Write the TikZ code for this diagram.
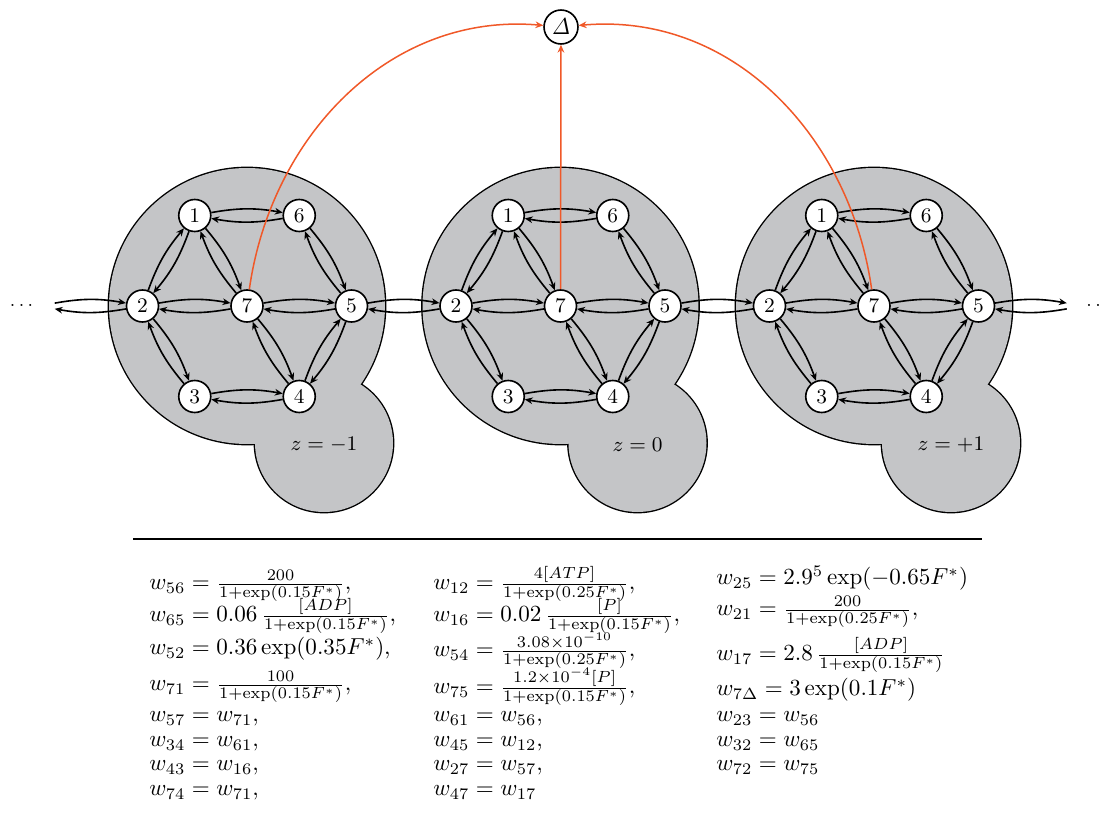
\documentclass[tikz,border=0pt]{standalone}
\usetikzlibrary{arrows.meta}
\definecolor{cellfill}{RGB}{196,197,199}
\definecolor{linkred}{RGB}{240,88,40}
\begin{document}
\begin{tikzpicture}[x=0.433pt,y=-0.433pt,
  state/.style={circle,draw,line width=0.7pt,fill=white,minimum size=13.86pt,inner sep=0pt,font=\small},
  ghost/.style={circle,minimum size=13.86pt,inner sep=0pt},
  flux/.style={-{Stealth[length=3.4pt,width=2.9pt]},line width=0.7pt,bend left=10},
  toatp/.style={-{Stealth[length=3.4pt,width=2.9pt]},line width=0.65pt,draw=linkred},
  eqn/.style={anchor=base west,inner sep=0pt},
  zlab/.style={font=\small},
  ellip/.style={anchor=base,inner sep=0pt,font=\footnotesize},
]
\useasboundingbox (0,0) rectangle (1105,828);

% shaded region of each unit cell: big disc around node 7 plus a small lobe
\foreach \cx in {247,560.5,874}{
  \draw[line width=1.2pt] (\cx,306) circle[radius=59.75pt];
  \draw[line width=1.2pt] (\cx+77,443) circle[radius=29.88pt];
}
\foreach \cx in {247,560.5,874}{
  \fill[cellfill] (\cx,306) circle[radius=59.75pt];
  \fill[cellfill] (\cx+77,443) circle[radius=29.88pt];
}

% states of each cell
\foreach \k/\cx/\zl in {a/247/{-1},b/560.5/0,c/874/{+1}}{
  \node[state] (\k7) at (\cx,306) {7};
  \node[state] (\k2) at (\cx-104.5,306) {2};
  \node[state] (\k5) at (\cx+104.5,306) {5};
  \node[state] (\k1) at (\cx-52.25,215.5) {1};
  \node[state] (\k6) at (\cx+52.25,215.5) {6};
  \node[state] (\k3) at (\cx-52.25,396.5) {3};
  \node[state] (\k4) at (\cx+52.25,396.5) {4};
  \node[zlab] (z\k) at (\cx+77,445) {$z=\zl$};
}

% open ends of the chain
\node[ghost] (L) at (38.5,306) {};
\node[ghost] (R) at (1083,306) {};
\node[ellip] (dl) at (21.5,307) {.\kern1.5pt.\kern1.5pt.};
\node[ellip] (dr) at (1098,307) {.\kern1.5pt.\kern1.5pt.};

% transitions inside each cell
\foreach \k in {a,b,c}{
  \foreach \u/\v in {1/6,2/1,1/7,2/7,7/5,6/5,2/3,7/4,3/4,4/5}{
    \draw[flux] (\k\u) to (\k\v);
    \draw[flux] (\k\v) to (\k\u);
  }
}
% transitions between neighbouring cells
\foreach \u/\v in {L/a2,a5/b2,b5/c2,c5/R}{
  \draw[flux] (\u) to (\v);
  \draw[flux] (\v) to (\u);
}

% ATP hydrolysis sink
\node[state,minimum size=14.7pt,font=\normalsize] (D) at (561,27) {$\mathit{\Delta}$};
\draw[toatp] (b7) -- (D);
\draw[toatp] (a7) to[out=82,in=175] (D);
\draw[toatp] (c7) to[out=98,in=5] (D);

% separator
\draw[line width=0.9pt] (133,539) coordinate (s1) -- (982,539) coordinate (s2);

% rates
\node[eqn] (e1) at (149,590) {$w_{56}=\frac{200}{1+\exp(0.15F^*)},$};
\node[eqn] (e2) at (149,622) {$w_{65}=0.06\,\frac{[ADP]}{1+\exp(0.15F^*)},$};
\node[eqn] (e3) at (149,655) {$w_{52}=0.36\exp(0.35F^*),$};
\node[eqn] (e4) at (149,691) {$w_{71}=\frac{100}{1+\exp(0.15F^*)},$};
\node[eqn] (e5) at (149,722) {$w_{57}=w_{71},$};
\node[eqn] (e6) at (149,747) {$w_{34}=w_{61},$};
\node[eqn] (e7) at (149,771) {$w_{43}=w_{16},$};
\node[eqn] (e8) at (149,796) {$w_{74}=w_{71},$};

\node[eqn] (f1) at (433,590) {$w_{12}=\frac{4[ATP]}{1+\exp(0.25F^*)},$};
\node[eqn] (f2) at (433,622) {$w_{16}=0.02\,\frac{[P]}{1+\exp(0.15F^*)},$};
\node[eqn] (f3) at (433,657) {$w_{54}=\frac{3.08\times10^{-10}}{1+\exp(0.25F^*)},$};
\node[eqn] (f4) at (433,694) {$w_{75}=\frac{1.2\times10^{-4}[P]}{1+\exp(0.15F^*)},$};
\node[eqn] (f5) at (433,722) {$w_{61}=w_{56},$};
\node[eqn] (f6) at (433,747) {$w_{45}=w_{12},$};
\node[eqn] (f7) at (433,771) {$w_{27}=w_{57},$};
\node[eqn] (f8) at (433,796) {$w_{47}=w_{17}$};

\node[eqn] (g1) at (716,585) {$w_{25}=2.9^5\exp(-0.65F^*)$};
\node[eqn] (g2) at (716,616) {$w_{21}=\frac{200}{1+\exp(0.25F^*)},$};
\node[eqn] (g3) at (716,661) {$w_{17}=2.8\,\frac{[ADP]}{1+\exp(0.15F^*)}$};
\node[eqn] (g4) at (716,696) {$w_{7\Delta}=3\exp(0.1F^*)$};
\node[eqn] (g5) at (716,722) {$w_{23}=w_{56}$};
\node[eqn] (g6) at (716,747) {$w_{32}=w_{65}$};
\node[eqn] (g7) at (716,771) {$w_{72}=w_{75}$};
\end{tikzpicture}
\end{document}
